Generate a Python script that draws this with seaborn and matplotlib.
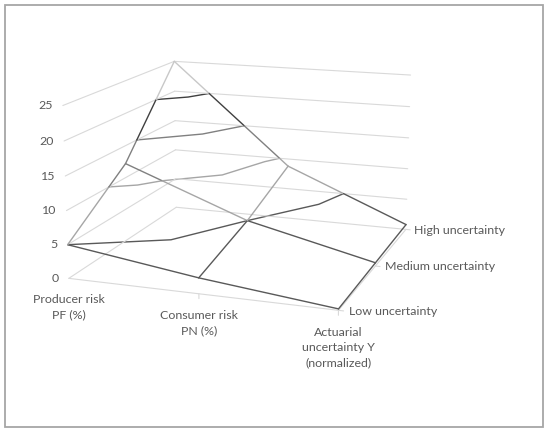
import numpy as np
import pandas as pd
import seaborn as sns
import matplotlib
matplotlib.use("Agg")
import matplotlib.pyplot as plt
import matplotlib.tri as mtri


sns.set_theme(style="white")
plt.rcParams['font.family'] = ['Lato', 'DejaVu Sans']

categories = ['Producer risk\nPF (%)', 'Consumer risk\nPN (%)', 'Actuarial\nuncertainty Y\n(normalized)']
series = ['Low uncertainty', 'Medium uncertainty', 'High uncertainty']
low_unc = [5.0, 2.3, 0.2]
medium_unc = [12.2, 5.0, 0.5]
high_unc = [25.0, 8.8, 0.8]
z_ticks = [0, 5, 10, 15, 20, 25]

# Excel-like band colours (0-5, 5-10, 10-15, 15-20, 20-25)
band_colors = ['#595959', '#a6a6a6', '#808080', '#404040', '#c8c8c8']
levels = [5, 10, 15, 20]
text_color = '#595959'
grid_color = '#d9d9d9'


def split_segment(p, q):
    """Split a 3D segment where it crosses a contour level, colour by band."""
    z0, z1 = p[2], q[2]
    cuts = [0.0]
    if z1 != z0:
        for lv in levels:
            t = (lv - z0) / (z1 - z0)
            if 0 < t < 1:
                cuts.append(t)
    cuts = sorted(cuts) + [1.0]
    out = []
    for a, b in zip(cuts[:-1], cuts[1:]):
        pa = p + (q - p) * a
        pb = p + (q - p) * b
        zm = (pa[2] + pb[2]) / 2
        band = min(int(zm // 5), len(band_colors) - 1)
        out.append((pa, pb, band_colors[band]))
    return out


def label3d(ax, x, y, z, s, **kw):
    # project the 3D anchor once, then place a plain 2D text there
    M = ax.get_proj()
    v = M @ np.array([x, y, z, 1.0])
    ax.text2D(v[0] / v[3], v[1] / v[3], s, transform=ax.transData, **kw)


df = pd.DataFrame([low_unc, medium_unc, high_unc], index=series, columns=categories)
Z = df.values
nx = len(categories)
ny = len(series)
X, Y = np.meshgrid(np.arange(nx), np.arange(ny))

# triangulation like the chart engine: each cell split around its centre
tx, ty, tz = list(X.ravel().astype(float)), list(Y.ravel().astype(float)), list(Z.ravel())
tris = []
for j in range(ny - 1):
    for i in range(nx - 1):
        a, b = j * nx + i, j * nx + i + 1
        c, d = (j + 1) * nx + i + 1, (j + 1) * nx + i
        tx.append(i + 0.5)
        ty.append(j + 0.5)
        tz.append(Z[j:j + 2, i:i + 2].mean())
        m = len(tx) - 1
        tris += [[a, b, m], [b, c, m], [c, d, m], [d, a, m]]
tri = mtri.Triangulation(tx, ty, tris)

fig = plt.figure(figsize=(5.5, 4.32), dpi=100)
ax = fig.add_axes([0.0742, 0.1234, 0.7313, 0.9311], projection='3d')
ax.set_xlim(0, nx - 1, view_margin=0)
ax.set_ylim(0, ny - 1, view_margin=0)
ax.set_zlim(0, 25, view_margin=0)
ax.set_box_aspect((1.588, 1.599, 1))
ax.view_init(elev=14.02, azim=-70.56)
ax.set_proj_type('persp', focal_length=0.609)
ax.set_xticks([])
ax.set_yticks([])
ax.set_zticks([])
ax.set_axis_off()

# walls: left (first category) and back (last series) gridlines
for z in z_ticks:
    ax.plot([0, 0], [0, ny - 1], [z, z], color=grid_color, lw=0.8)
    ax.plot([0, nx - 1], [ny - 1, ny - 1], [z, z], color=grid_color, lw=0.8)

# floor edges (category and series axes)
ax.plot([0, nx - 1], [0, 0], [0, 0], color=grid_color, lw=0.8)
ax.plot([nx - 1, nx - 1], [0, ny - 1], [0, 0], color=grid_color, lw=0.8)
for i in range(1, nx):
    ax.plot([i, i], [0, 0], [0, -0.7], color=grid_color, lw=0.8)
for j in range(ny):
    ax.plot([nx - 1, nx - 1 + 0.035], [j, j], [0, 0], color=grid_color, lw=0.8)

# contour lines on the surface
ax.tricontour(tri, np.array(tz), levels=levels, colors=band_colors[:4], linewidths=1.0)

# wireframe mesh, coloured by band
for j in range(ny):
    for i in range(nx - 1):
        p = np.array([i, j, Z[j, i]], float)
        q = np.array([i + 1, j, Z[j, i + 1]], float)
        for pa, pb, c in split_segment(p, q):
            ax.plot([pa[0], pb[0]], [pa[1], pb[1]], [pa[2], pb[2]], color=c, lw=1.0)
for i in range(nx):
    for j in range(ny - 1):
        p = np.array([i, j, Z[j, i]], float)
        q = np.array([i, j + 1, Z[j + 1, i]], float)
        for pa, pb, c in split_segment(p, q):
            ax.plot([pa[0], pb[0]], [pa[1], pb[1]], [pa[2], pb[2]], color=c, lw=1.0)

# labels
for z in z_ticks:
    label3d(ax, -0.08, 0, z, str(z), ha='right', va='center_baseline',
            fontsize=8.9, color=text_color)
for i, lab in enumerate(categories):
    label3d(ax, i, 0, -2.4, lab, ha='center', va='top', fontsize=8.9,
            color=text_color, linespacing=1.45)
for j, lab in enumerate(series):
    label3d(ax, nx - 1 + 0.07, j, 0.2, lab, ha='left', va='center_baseline',
            fontsize=8.9, color=text_color)

fig.patches.append(plt.Rectangle((5 / 550, 5 / 432), 538 / 550, 422 / 432,
                                 transform=fig.transFigure, fill=False,
                                 edgecolor='#a6a6a6', lw=1.3))

fig.savefig('out.png', dpi=100)
plt.close(fig)
